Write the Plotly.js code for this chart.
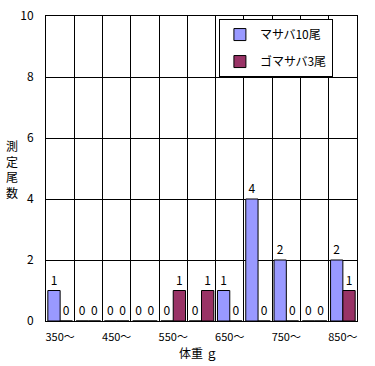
<!DOCTYPE html>
<html>
<head>
<meta charset="utf-8">
<script src="https://cdn.plot.ly/plotly-3.0.1.min.js"></script>
<style>html,body{margin:0;padding:0;background:#fff;}#chart{width:375px;height:366px;}</style>
</head>
<body>
<div id="chart"></div>
<script>
const categories = ["350～","400～","450～","500～","550～","600～","650～","700～","750～","800～","850～"];
const tickLabels = ["350～","","450～","","550～","","650～","","750～","","850～"];
const masaba = [1,0,0,0,0,0,1,4,2,0,2];
const gomasaba = [0,0,0,0,1,1,0,0,0,0,1];
const seriesNames = ["マサバ10尾","ゴマサバ3尾"];
const yTicks = [0,2,4,6,8,10];

const FONT = "'Noto Sans CJK JP', 'Liberation Sans', sans-serif";

const common = {
  type: 'bar',
  x: categories,
  textposition: 'outside',
  cliponaxis: false,
  textfont: {family: FONT, size: 12, color: '#000'},
  hoverinfo: 'none'
};

const traces = [
  Object.assign({}, common, {
    name: seriesNames[0], y: masaba, text: masaba.map(String),
    marker: {color: '#9999FF', line: {color: '#000', width: 1}}, legendgroup: 'a'
  }),
  Object.assign({}, common, {
    name: seriesNames[1], y: gomasaba, text: gomasaba.map(String),
    marker: {color: '#993366', line: {color: '#000', width: 1}}, legendgroup: 'b'
  })
];

const layout = {
  width: 375, height: 366,
  margin: {l: 46, r: 18, t: 16, b: 45},
  paper_bgcolor: '#fff', plot_bgcolor: '#fff',
  font: {family: FONT, size: 12, color: '#000'},
  barmode: 'group', bargap: 0.13, bargroupgap: 0,
  showlegend: true,
  legend: {
    x: 0.556, y: 0.99, xanchor: 'left', yanchor: 'top',
    bgcolor: '#fff', bordercolor: '#000', borderwidth: 1,
    font: {family: FONT, size: 12, color: '#000'},
    traceorder: 'grouped', tracegroupgap: 8
  },
  xaxis: {
    type: 'category',
    tickvals: categories, ticktext: tickLabels,
    tickson: 'boundaries', ticks: '', tickangle: 0,
    showgrid: true, gridcolor: '#000', gridwidth: 1,
    showline: true, linecolor: '#000', linewidth: 1, mirror: true,
    ticklabelstandoff: 6,
    tickfont: {family: FONT, size: 11},
    automargin: false,
    fixedrange: true
  },
  yaxis: {
    range: [0, 10], tickvals: yTicks,
    showgrid: true, gridcolor: '#000', gridwidth: 1,
    showline: true, linecolor: '#000', linewidth: 1, mirror: true,
    zeroline: false, ticks: '',
    ticklabelstandoff: 9,
    tickfont: {family: FONT, size: 12},
    automargin: false,
    fixedrange: true
  },
  annotations: [{
    text: '測<br>定<br>尾<br>数', xref: 'paper', yref: 'paper',
    x: -0.108, y: 0.5, xanchor: 'center', yanchor: 'middle',
    showarrow: false, font: {family: FONT, size: 12, color: '#000'}
  }, {
    text: '体重 ｇ', xref: 'paper', yref: 'paper',
    x: 0.49, y: -0.104, xanchor: 'center', yanchor: 'middle',
    showarrow: false, font: {family: FONT, size: 12, color: '#000'}
  }]
};

Plotly.newPlot('chart', traces, layout, {displayModeBar: false, staticPlot: true});
</script>
</body>
</html>
